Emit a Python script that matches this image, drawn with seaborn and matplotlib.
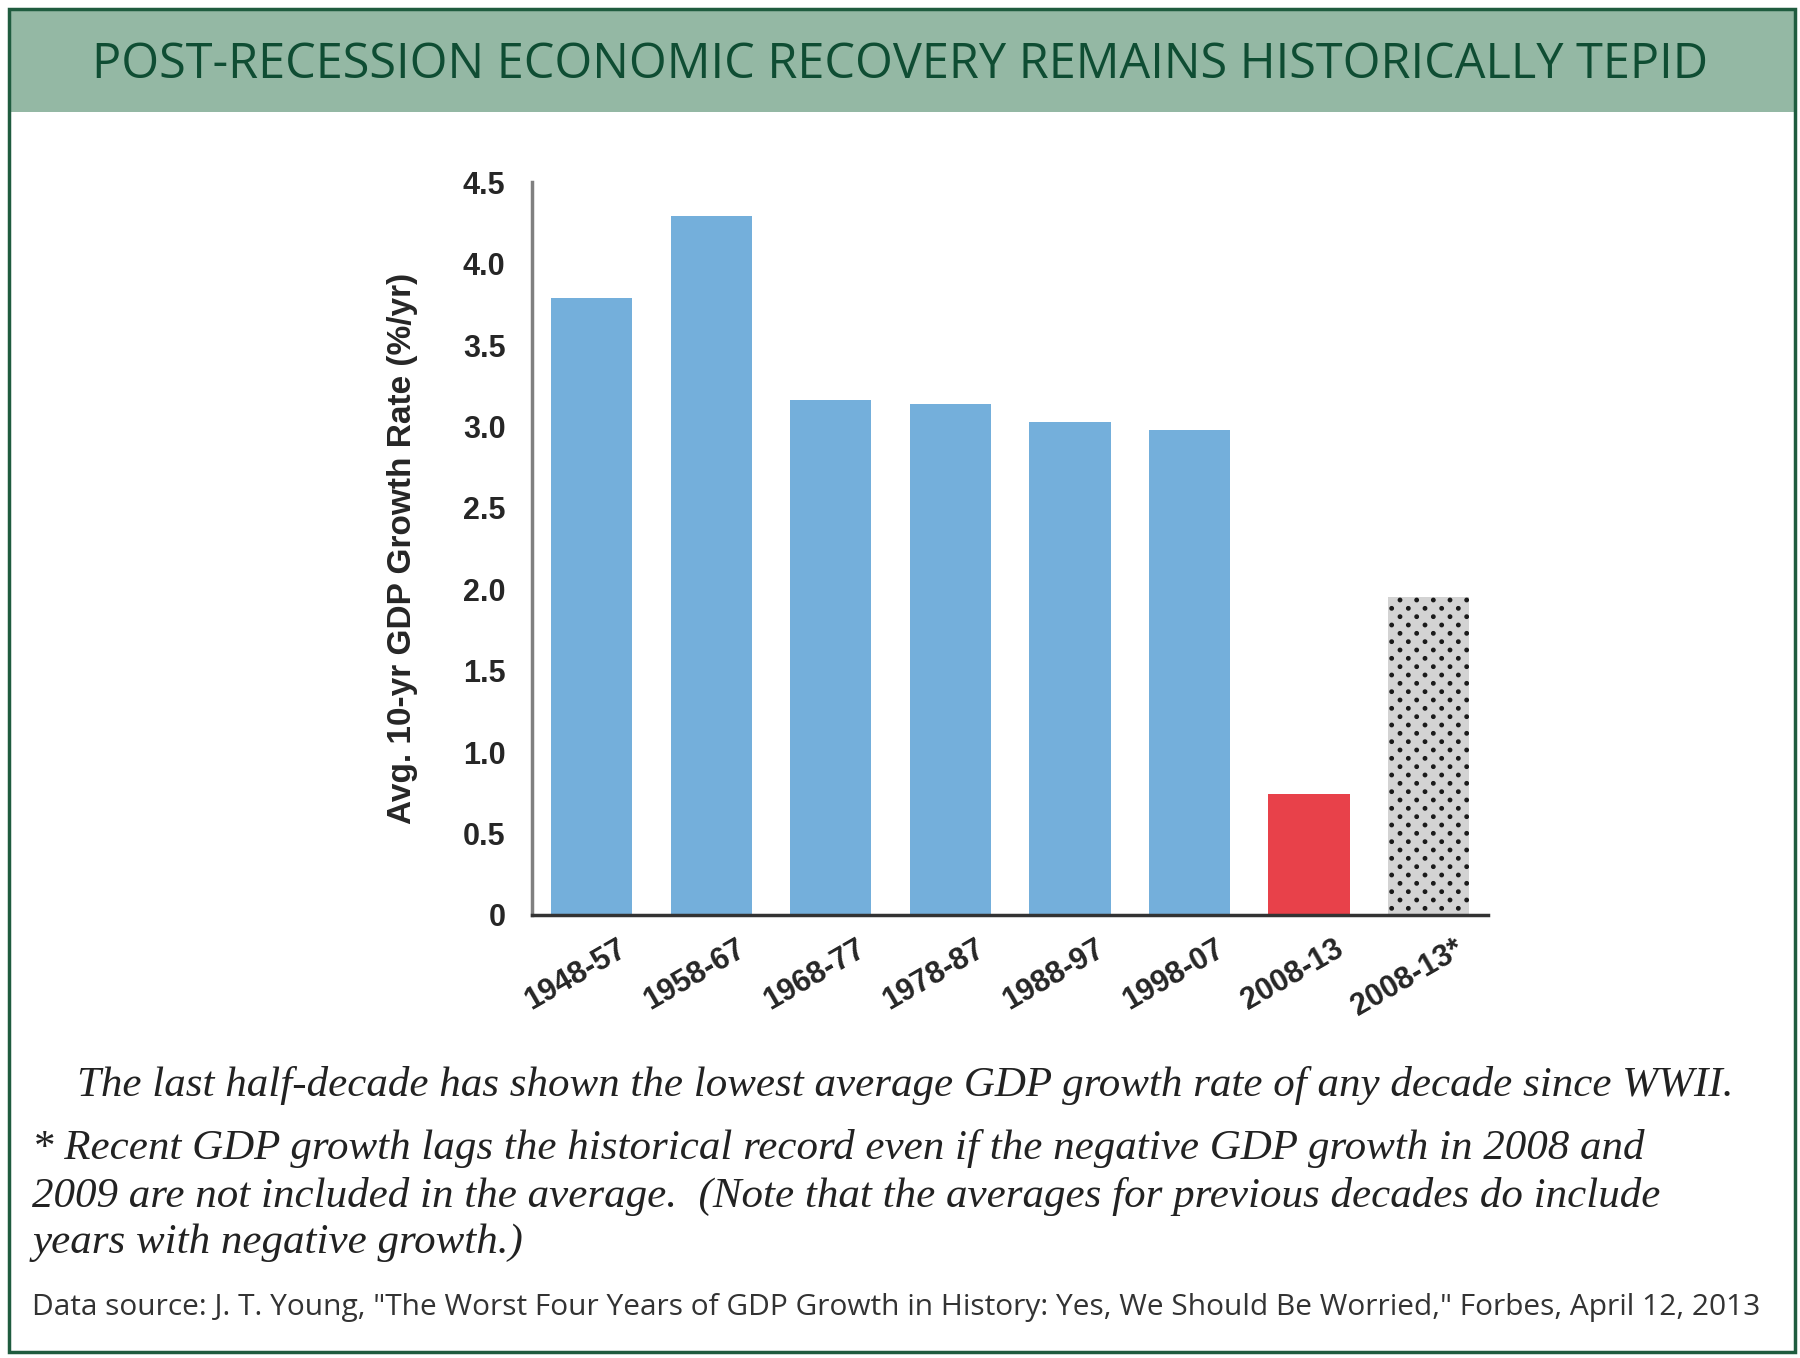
import numpy as np
import pandas as pd
import matplotlib
matplotlib.use('Agg')
import matplotlib.pyplot as plt
import matplotlib.transforms as mtransforms
from matplotlib import hatch as mhatch
from matplotlib.path import Path
from matplotlib.patches import Rectangle
import seaborn as sns

# data
periods = ['1948-57', '1958-67', '1968-77', '1978-87', '1988-97', '1998-07', '2008-13', '2008-13*']
growth = [3.79, 4.29, 3.16, 3.14, 3.03, 2.98, 0.74, 1.95]
bar_colors = ['#74afdb'] * 6 + ['#e8414a', '#d3d3d3']
yticks = [0, 0.5, 1.0, 1.5, 2.0, 2.5, 3.0, 3.5, 4.0, 4.5]
ytick_labels = ['0', '0.5', '1.0', '1.5', '2.0', '2.5', '3.0', '3.5', '4.0', '4.5']

title = 'POST-RECESSION ECONOMIC RECOVERY REMAINS HISTORICALLY TEPID'
caption = 'The last half-decade has shown the lowest average GDP growth rate of any decade since WWII.'
footnote = ['* Recent GDP growth lags the historical record even if the negative GDP growth in 2008 and',
            '2009 are not included in the average.  (Note that the averages for previous decades do include',
            'years with negative growth.)']
source = ('Data source: J. T. Young, "The Worst Four Years of GDP Growth in History: '
          'Yes, We Should Be Worried," Forbes, April 12, 2013')


# '.' hatch as a staggered dot screen (rows at half the column spacing), like the print pattern
class StaggeredDots(mhatch.HatchPatternBase):
    def __init__(self, hatch, density):
        self.ncols = hatch.count('.') * density
        circ = Path.unit_circle()
        self.shape_vertices = circ.vertices
        self.shape_codes = circ.codes
        self.centers = []
        if self.ncols:
            step = 1.0 / self.ncols
            for r in range(2 * self.ncols + 1):
                if r % 2 == 0:
                    xs = np.arange(self.ncols + 1) * step
                else:
                    xs = step / 2 + np.arange(self.ncols) * step
                self.centers += [(x, r * step / 2) for x in xs]
        self.num_vertices = len(self.centers) * len(self.shape_vertices)

    def set_vertices_and_codes(self, vertices, codes):
        rad = 0.017
        n = len(self.shape_vertices)
        for i, (cx, cy) in enumerate(self.centers):
            vertices[i * n:(i + 1) * n] = self.shape_vertices * rad + [cx, cy]
            codes[i * n:(i + 1) * n] = self.shape_codes


mhatch._hatch_types = [StaggeredDots if t is mhatch.SmallFilledCircles else t
                       for t in mhatch._hatch_types]

sns.set_style('white')
plt.rcParams['font.family'] = ['Liberation Sans', 'DejaVu Sans']
plt.rcParams['hatch.linewidth'] = 1.0

df = pd.DataFrame({'period': periods, 'growth': growth})

fig = plt.figure(figsize=(18, 13.58), dpi=100)
fig.patch.set_facecolor('white')

# frame + title band
fig.patches.append(Rectangle((0.0051, 0.0042), 0.9923, 0.989, transform=fig.transFigure,
                             facecolor='none', edgecolor='#1f5c3f', linewidth=2.5, zorder=5))
fig.patches.append(Rectangle((0.0051, 0.9176), 0.9923, 0.0756, transform=fig.transFigure,
                             facecolor='#94b8a4', edgecolor='none', zorder=0))

ax = fig.add_axes([0.2955, 0.3263, 0.5314, 0.5395])
sns.barplot(data=df, x='period', y='growth', hue='period', palette=bar_colors,
            legend=False, width=0.68, saturation=1, ax=ax)
for p in ax.patches:
    p.set_linewidth(0)
    p.set_edgecolor(p.get_facecolor())
# dotted last bar: hatch drawn in the edge colour, border hidden by zero width
ax.patches[-1].set_hatch('.')
ax.patches[-1].set_edgecolor('#1a1a1a')

ax.set_xlim(-0.5, 7.5)
ax.set_ylim(0, 4.5)
ax.set_yticks(yticks)
ax.set_yticklabels(ytick_labels, fontsize=22, fontweight='bold')
ax.set_xticks(range(len(periods)))
ax.set_xticklabels(periods, fontsize=22, fontweight='bold', rotation=30,
                   ha='right', rotation_mode='anchor')
ax.set_xticks(np.arange(-0.5, 8, 1), minor=True)
ax.tick_params(axis='x', which='major', length=0, pad=14)
ax.tick_params(axis='x', which='minor', length=9, width=2, color='#555555', direction='out')
ax.tick_params(axis='y', length=9, width=2, color='#555555', direction='out', pad=10)
ax.set_xlabel('')
ax.set_ylabel('Avg. 10-yr GDP Growth Rate (%/yr)', fontsize=24, fontweight='bold', labelpad=32)
sns.despine(ax=ax)
ax.spines['left'].set_color('#808080')
ax.spines['left'].set_linewidth(2.5)
ax.spines['bottom'].set_color('#333333')
ax.spines['bottom'].set_linewidth(2.5)

# shift x labels right so they end just past the bar centre
offset = mtransforms.ScaledTranslation(0.25, 0, fig.dpi_scale_trans)
for lab in ax.get_xticklabels():
    lab.set_transform(lab.get_transform() + offset)

fig.text(0.5, 0.952, title, ha='center', va='center', fontsize=35, color='#0f4d33',
         family=['Open Sans', 'DejaVu Sans'])
fig.text(0.503, 0.2005, caption, ha='center', va='center', fontsize=31, style='italic',
         family=['Liberation Serif', 'DejaVu Serif'], color='#222222')
for txt, yy in zip(footnote, [0.154, 0.119, 0.085]):
    fig.text(0.018, yy, txt, ha='left', va='center', fontsize=31, style='italic',
             family=['Liberation Serif', 'DejaVu Serif'], color='#222222')
fig.text(0.018, 0.0374, source, ha='left', va='center', fontsize=21.5, color='#333333',
         family=['Open Sans', 'DejaVu Sans'])

fig.savefig('out.png', dpi=100)
